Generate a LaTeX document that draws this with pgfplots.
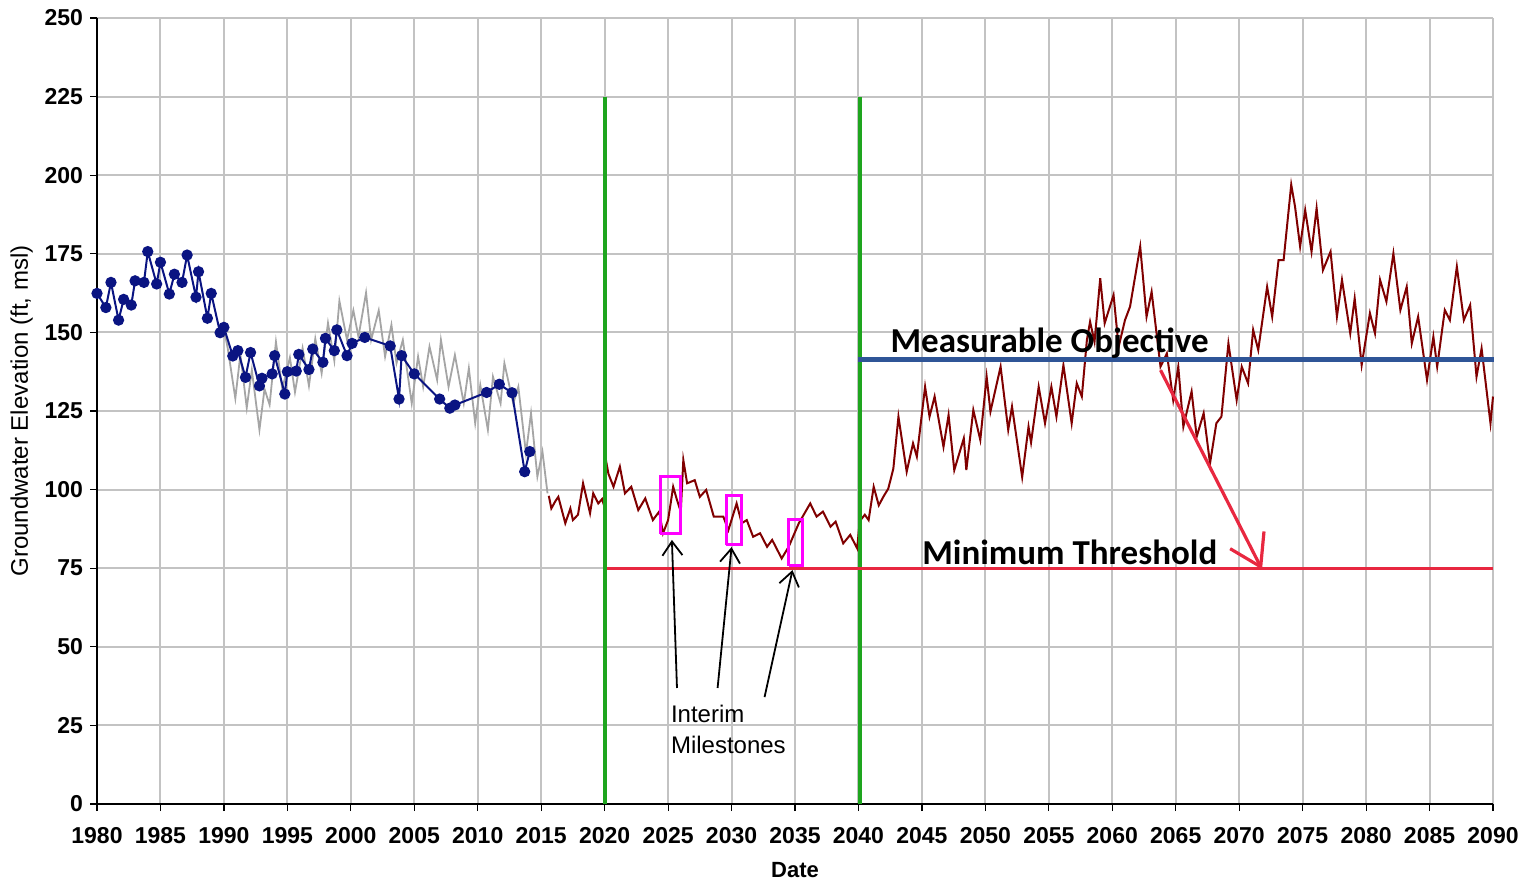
\documentclass[border=0pt]{standalone}
\usepackage{pgfplots}
\pgfplotsset{compat=1.18}
\usepackage{fontspec}
\setmainfont{Liberation Sans}
\newfontfamily\calibri{Carlito}
\usetikzlibrary{arrows.meta}
\definecolor{navyc}{RGB}{10,20,130}
\definecolor{grayc}{RGB}{165,165,165}
\definecolor{brownc}{RGB}{128,0,0}
\definecolor{greenc}{RGB}{30,165,30}
\definecolor{redc}{RGB}{232,40,64}
\definecolor{bluec}{RGB}{47,85,151}
\definecolor{magc}{RGB}{255,0,255}
\definecolor{gridc}{RGB}{195,195,195}
\begin{document}
\begin{tikzpicture}
\useasboundingbox (-48.5pt,-39pt) rectangle (713.5pt,402pt);
\begin{axis}[
  scale only axis, width=698pt, height=393pt,
  xmin=1980, xmax=2090, ymin=0, ymax=250,
  xtick={1980,1985,...,2090}, ytick={0,25,...,250},
  axis x line*=bottom, axis y line*=left,
  axis line style={black, line width=0.8pt, -},
  grid=major, major grid style={gridc, line width=1pt},
  tick align=outside, major tick length=3.5pt,
  tick style={black, line width=0.6pt},
  /pgf/number format/1000 sep={},
  /pgf/number format/assume math mode=true,
  ticklabel style={font=\fontsize{11.5}{13}\selectfont\bfseries},
  xticklabel style={yshift=-4.5pt},
  xlabel={Date}, xlabel style={font=\fontsize{11}{13}\selectfont\bfseries, yshift=-2.5pt},
  ylabel={Groundwater Elevation (ft, msl)}, ylabel style={font=\fontsize{12}{14}\selectfont, yshift=-1pt},
  clip=false,
]
% gray historical simulated
\addplot[grayc, line width=0.9pt] coordinates {
(1990.0,151)(1990.3,145)(1990.9,129)(1991.3,143)(1991.8,126)(1992.2,138)(1992.8,119)(1993.2,132)(1993.6,127)(1994.1,147)(1994.6,132)(1995.2,142)(1995.6,131)(1996.2,145)(1996.7,133)(1997.2,148)(1997.7,137)(1998.2,153)(1998.7,141)(1999.1,160)(1999.7,147.6)(2000.2,157)(2000.6,148.6)(2001.2,162.6)(2001.6,147.6)(2002.2,157)(2002.7,142.3)(2003.2,152.4)(2003.6,140.2)(2004.1,147.6)(2004.8,127.4)(2005.3,142.3)(2005.7,132.7)(2006.2,145.5)(2006.8,134.9)(2007.1,147.6)(2007.7,132.7)(2008.2,142.8)(2008.9,127.4)(2009.3,138.6)(2009.8,121.1)(2010.2,133.3)(2010.8,119)(2011.2,135.9)(2011.8,127.4)(2012.1,140.2)(2012.8,127.4)(2013.2,132.7)(2013.8,111.5)(2014.2,124.3)(2014.7,104.1)(2015.1,112.1)(2015.5,98.8)
};
% observed
\addplot[navyc, line width=1pt, mark=*, mark size=2.3pt, mark options={fill=navyc, draw=navyc}] coordinates {
(1980.0,162.4)(1980.7,157.9)(1981.1,165.9)(1981.7,153.9)(1982.1,160.5)(1982.7,158.7)(1983.0,166.4)(1983.7,165.9)(1984.0,175.7)(1984.7,165.4)(1985.0,172.3)(1985.7,162.2)(1986.1,168.5)(1986.7,165.9)(1987.1,174.6)(1987.8,161.2)(1988.0,169.3)(1988.7,154.5)(1989.0,162.4)(1989.7,149.9)(1990.0,151.6)(1990.7,142.5)(1991.1,144.2)(1991.7,135.7)(1992.1,143.6)(1992.8,133.0)(1993.0,135.4)(1993.8,136.8)(1994.0,142.6)(1994.8,130.4)(1995.0,137.5)(1995.7,137.7)(1995.9,143.0)(1996.7,138.2)(1997.0,144.7)(1997.8,140.5)(1998.0,148.1)(1998.7,144.2)(1998.9,150.8)(1999.7,142.6)(2000.1,146.5)(2001.1,148.4)(2003.1,145.7)(2003.8,128.8)(2004.0,142.6)(2005.0,136.8)(2007.0,128.8)(2007.8,125.9)(2008.2,126.9)(2010.7,130.9)(2011.7,133.5)(2012.7,130.8)(2013.7,105.7)(2014.1,112.1)
};
% projected
\addplot[brownc, line width=1pt] coordinates {
(2015.6,98)(2015.8,94)(2016.1,96.2)(2016.35,97.7)(2016.9,89.3)(2017.3,94.0)(2017.5,90.3)(2017.9,92)(2018.3,102.0)(2018.85,92.5)(2019.1,98.8)(2019.5,95.6)(2019.8,97)(2019.95,95)
(2020.05,110.5)(2020.3,105)(2020.7,100.9)(2021.2,107.3)(2021.6,98.8)(2022.1,100.9)(2022.65,93.5)(2023.2,97.2)(2023.8,90.3)(2024.3,93.0)(2024.6,86.1)(2025.0,90.3)(2025.4,100.9)(2025.7,96.7)(2026.0,93)(2026.2,109.4)(2026.5,102.0)(2027.1,103)(2027.5,97.7)(2028.0,99.9)(2028.6,91.4)(2029.35,91.4)(2029.75,87.1)(2030.4,95.6)(2030.8,89.3)(2031.2,90.3)(2031.7,85.0)(2032.25,86.1)(2032.8,81.8)(2033.2,84.0)(2033.95,78.1)(2034.5,81.8)(2035.3,89.3)(2036.2,95.6)(2036.7,91.4)(2037.2,93.0)(2037.8,88.2)(2038.2,89.8)(2038.8,82.9)(2039.35,85.6)(2039.9,81.3)
(2040.1,90)(2040.5,92)(2040.8,90.3)(2041.2,100.9)(2041.6,95)(2042.0,98)(2042.35,100.3)(2042.75,106.7)(2043.15,123.2)(2043.8,105.7)(2044.3,114.7)(2044.6,110.5)(2045.25,132.7)(2045.6,123.2)(2046.0,129.6)(2046.7,113.6)(2047.1,123.7)(2047.55,106.2)(2048.3,116.3)(2048.5,106.2)(2049.05,125.3)(2049.6,115.8)(2050.1,135.9)(2050.4,124.8)(2051.2,139.1)(2051.8,119.0)(2052.1,126.4)(2052.9,104.0)(2053.4,120.0)(2053.6,115)(2054.2,132.7)(2054.7,121.1)(2055.2,132.7)(2055.6,123.2)(2056.15,139.6)(2056.8,121.1)(2057.2,133.8)(2057.6,129.6)(2058.0,147.6)(2058.25,153.4)(2058.6,147)(2059.05,167.2)(2059.4,152.9)(2060.1,161.9)(2060.5,145.4)(2061.0,153.9)(2061.4,158.2)(2062.2,177.3)(2062.7,155.0)(2063.1,162.9)(2063.8,139.1)(2064.3,143.3)(2064.8,128.5)(2065.2,139.1)(2065.6,120.0)(2066.25,131.2)(2066.65,116.8)(2067.2,124.3)(2067.7,108.3)(2068.2,121.1)(2068.6,123.2)(2069.15,146.5)(2069.8,128.5)(2070.2,139.1)(2070.7,133.8)(2071.1,150.8)(2071.5,144.4)(2072.2,164.5)(2072.6,155.0)(2073.1,173.0)(2073.5,173)(2074.1,197)(2074.4,190)(2074.8,177.3)(2075.2,188.9)(2075.7,175.7)(2076.1,189.5)(2076.6,169.8)(2077.2,175.7)(2077.7,155)(2078.1,166.7)(2078.75,149.7)(2079.1,160.8)(2079.65,139.6)(2080.3,156.1)(2080.7,149.7)(2081.1,166.7)(2081.6,159.8)(2082.15,175.1)(2082.7,157.1)(2083.2,164.5)(2083.6,146.5)(2084.1,155)(2084.8,134.9)(2085.3,148.6)(2085.6,139.1)(2086.2,157.1)(2086.6,153.9)(2087.15,170.9)(2087.7,153.9)(2088.2,158.7)(2088.7,135.9)(2089.1,144.9)(2089.8,121.1)(2090.0,129.6)
};
% green verticals
\addplot[greenc, line width=2pt] coordinates {(2020.0,0)(2020.0,225)};
\addplot[greenc, line width=2pt] coordinates {(2040.1,0)(2040.1,225)};
% minimum threshold
\addplot[redc, line width=1.5pt] coordinates {(2020.2,75)(2090,75)};
% measurable objective
\addplot[bluec, line width=2.5pt] coordinates {(2040.0,141.5)(2090.1,141.5)};
% interim milestone boxes
\addplot[magc, line width=1.5pt] coordinates {(2024.4,85.9)(2026.0,85.9)(2026.0,104.3)(2024.4,104.3)(2024.4,85.9)};
\addplot[magc, line width=1.5pt] coordinates {(2029.6,82.4)(2030.8,82.4)(2030.8,98.0)(2029.6,98.0)(2029.6,82.4)};
\addplot[magc, line width=1.5pt] coordinates {(2034.5,75.7)(2035.6,75.7)(2035.6,90.6)(2034.5,90.6)(2034.5,75.7)};
% arrows
\draw[black, line width=0.9pt, -{Straight Barb[length=7pt,width=10pt]}] (axis cs:2025.7,36.9) -- (axis cs:2025.3,84);
\draw[black, line width=0.9pt, -{Straight Barb[length=7pt,width=10pt]}] (axis cs:2028.9,36.9) -- (axis cs:2030.0,81.7);
\draw[black, line width=0.9pt, -{Straight Barb[length=7pt,width=10pt]}] (axis cs:2032.6,34) -- (axis cs:2034.8,74.4);
\draw[redc, line width=1.6pt, -{Straight Barb[length=15pt,width=19pt]}] (axis cs:2063.8,138) -- (axis cs:2071.8,74.6);
% texts
\node[anchor=west, align=left, font=\fontsize{12}{15.5}\selectfont, inner sep=0pt] at (axis cs:2025.2,23.7) {Interim\\Milestones};
\node[anchor=west, font=\calibri\bfseries\fontsize{17.5}{20}\selectfont, inner sep=0pt] at (axis cs:2042.5,146.5) {Measurable Objective};
\node[anchor=west, font=\calibri\bfseries\fontsize{17.5}{20}\selectfont, inner sep=0pt] at (axis cs:2045.0,80) {Minimum Threshold};
\end{axis}
\end{tikzpicture}
\end{document}
